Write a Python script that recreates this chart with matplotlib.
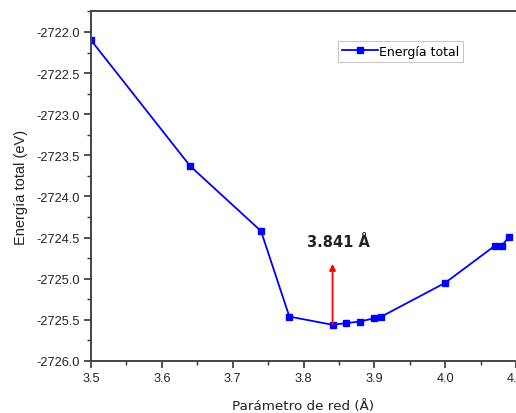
import matplotlib
matplotlib.use("Agg")
import matplotlib.pyplot as plt
from matplotlib.ticker import MultipleLocator, FormatStrFormatter

a_param = [3.50, 3.64, 3.74, 3.78, 3.841, 3.86, 3.88, 3.90, 3.91, 4.00, 4.07, 4.08, 4.09]
energy = [-2722.10, -2723.63, -2724.42, -2725.46, -2725.56, -2725.54, -2725.52,
          -2725.48, -2725.46, -2725.05, -2724.60, -2724.60, -2724.49]
min_a = 3.841
min_e = -2725.56
arrow_top = -2724.82
label_text = "3.841 Å"

fig = plt.figure(figsize=(5.16, 4.14), dpi=100)
ax = fig.add_axes([91/516, 52/414, 425/516, 350/414])

ax.plot(a_param, energy, color="#0000ff", lw=1.3, marker="s", ms=4.5,
        label="Energía total")
ax.annotate("", xy=(min_a, arrow_top), xytext=(min_a, min_e),
            arrowprops=dict(arrowstyle="-|>", color="red", lw=1.3,
                            mutation_scale=9, shrinkA=0, shrinkB=0))
ax.text(3.849, -2724.55, label_text, ha="center", va="center",
        fontsize=10.5, fontweight="bold", color="#222222", family="DejaVu Sans")

ax.set_xlim(3.5, 4.1)
ax.set_ylim(-2726.0, -2721.745)
ax.xaxis.set_major_locator(MultipleLocator(0.1))
ax.xaxis.set_minor_locator(MultipleLocator(0.05))
ax.yaxis.set_major_locator(MultipleLocator(0.5))
ax.yaxis.set_minor_locator(MultipleLocator(0.25))
ax.xaxis.set_major_formatter(FormatStrFormatter("%.1f"))
ax.yaxis.set_major_formatter(FormatStrFormatter("%.1f"))
ax.tick_params(which="major", direction="out", length=5, width=1.2,
               labelsize=9.2, colors="#333333", labelcolor="#222222", pad=3)
ax.tick_params(which="minor", direction="out", length=3, width=1.0, colors="#333333")
for lab in ax.get_xticklabels() + ax.get_yticklabels():
    lab.set_family("Liberation Sans")

for s in ["left", "bottom", "top"]:
    ax.spines[s].set_linewidth(1.4)
    ax.spines[s].set_color("#444444")
ax.spines["right"].set_visible(False)

ax.set_ylabel("Energía total (eV)", fontsize=10.5, family="Liberation Sans",
              color="#222222", labelpad=6)
ax.set_xlabel("Parámetro de red (Å)", fontsize=9.7, family="DejaVu Sans",
              color="#222222", labelpad=11)

leg = ax.legend(loc="upper left", bbox_to_anchor=(247/425, 320/350),
                frameon=True, fancybox=False, handlelength=2.9, handletextpad=0.1,
                borderpad=0.3, borderaxespad=0, numpoints=1,
                prop={"family": "DejaVu Sans", "size": 9.0})
leg.get_frame().set_edgecolor("#bbbbbb")
leg.get_frame().set_linewidth(0.8)

fig.savefig("out.png", dpi=100)
